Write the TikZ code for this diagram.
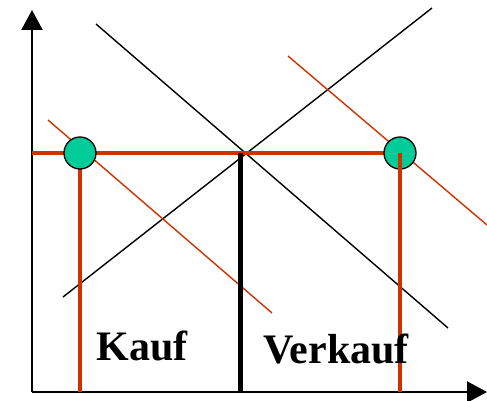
\documentclass[tikz,border=0pt]{standalone}
\usepackage{fontspec}
\setmainfont{Liberation Serif}
\usetikzlibrary{arrows.meta}
\definecolor{figO}{RGB}{204,51,0}
\definecolor{figT}{RGB}{0,204,153}

\begin{document}
\begin{tikzpicture}[x=1pt,y=-1pt,
  axis/.style={line width=2.2pt, -{Triangle[width=21pt,length=20pt]}},
  dot/.style={circle, draw=black, line width=1.3pt, fill=figT, minimum size=32pt, inner sep=0pt},
  tag/.style={font=\fontsize{42}{44}\selectfont\bfseries, inner sep=0pt, anchor=base}]
\useasboundingbox (0,0) rectangle (487,401);
% axes
\coordinate (O) at (32,392);
\draw[axis] (O) -- (32,10);
\draw[axis] (O) -- (487,392);
% supply and demand
\draw[line width=1.4pt] (96,24) -- (448,328);
\draw[line width=1.4pt] (63,297) -- (432,8);
% shifted curves
\draw[figO, line width=1.4pt] (48,120) -- (272,313);
\draw[figO, line width=1.4pt] (288,56) -- (487,225);
% world price and quantities
\coordinate (eq) at (240,153);
\coordinate (pB) at (80,153);
\coordinate (pS) at (400,153);
\draw[figO, line width=3.8pt] (32,153) -- (pS);
\draw[figO, line width=3.8pt] (pB) -- (pB |- O);
\draw[line width=5pt] (eq) -- (eq |- O);
\node[dot] (buy) at (pB) {};
\node[dot] (sell) at (pS) {};
\draw[figO, line width=3.8pt] (sell.center) -- (sell.center |- O);
% labels
\node[tag] (kauf) at (142,360) {Kauf};
\node[tag] (verkauf) at (336,363) {Verkauf};
\end{tikzpicture}
\end{document}
